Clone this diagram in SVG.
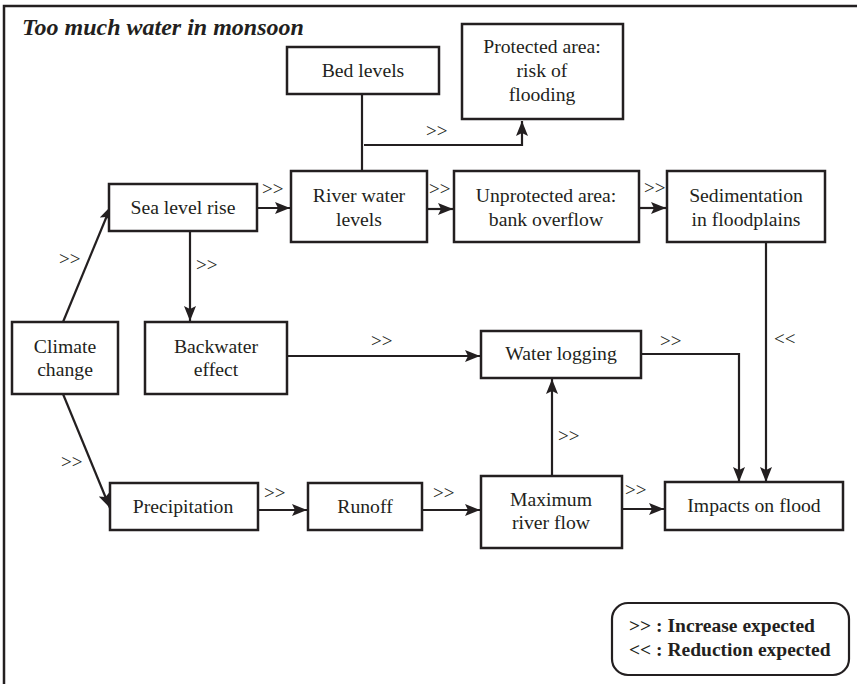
<svg xmlns="http://www.w3.org/2000/svg" width="857" height="684" viewBox="0 0 857 684">
  <style>
    .box { fill: #fff; stroke: #231f20; stroke-width: 2.5; }
    .t { font-family: "Liberation Serif", "Times New Roman", serif; font-size: 19.7px; fill: #231f20; text-anchor: middle; }
    .lbl { font-family: "Liberation Serif", "Times New Roman", serif; font-size: 19px; fill: #231f20; }
    .c { fill: none; stroke: #231f20; stroke-width: 2.2; }
    .legend { font-family: "Liberation Serif", "Times New Roman", serif; font-size: 19.5px; font-weight: bold; fill: #231f20; }
    .title { font-family: "Liberation Serif", "Times New Roman", serif; font-size: 24px; font-weight: bold; font-style: italic; fill: #231f20; }
  </style>
  <defs>
    <marker id="arr" markerUnits="userSpaceOnUse" markerWidth="16" markerHeight="12" refX="15" refY="6" orient="auto">
      <path d="M0,0 L15,6 L0,12 L3,6 z" fill="#231f20"/>
    </marker>
  </defs>

  <rect width="857" height="684" fill="#fff"/>
  <!-- outer frame: top and left edges only -->
  <path d="M4,684 L4,6 L857,6" fill="none" stroke="#231f20" stroke-width="2.5"/>
  <text class="title" x="22" y="35">Too much water in monsoon</text>

  <g id="connectors">
    <!-- bed levels down to river water levels, with branch to protected area -->
    <path class="c" d="M362,94 L362,172"/>
    <path class="c" d="M364,145 L522,145 L522,121" marker-end="url(#arr)"/>
    <!-- upper row -->
    <path class="c" d="M257,208 L290,208" marker-end="url(#arr)"/>
    <path class="c" d="M427,209 L453,209" marker-end="url(#arr)"/>
    <path class="c" d="M639,208 L666,208" marker-end="url(#arr)"/>
    <!-- climate change branches -->
    <path class="c" d="M63,322 L111,206" marker-end="url(#arr)"/>
    <path class="c" d="M63,394 L110,508" marker-end="url(#arr)"/>
    <!-- sea level rise down to backwater effect -->
    <path class="c" d="M190,231 L190,321" marker-end="url(#arr)"/>
    <!-- backwater effect to water logging -->
    <path class="c" d="M287,356 L480,356" marker-end="url(#arr)"/>
    <!-- water logging to impacts on flood -->
    <path class="c" d="M641,354 L739,354 L739,482" marker-end="url(#arr)"/>
    <!-- sedimentation to impacts on flood -->
    <path class="c" d="M766,242 L766,482" marker-end="url(#arr)"/>
    <!-- maximum river flow up to water logging -->
    <path class="c" d="M552,476 L552,379" marker-end="url(#arr)"/>
    <!-- lower row -->
    <path class="c" d="M258,510 L307,510" marker-end="url(#arr)"/>
    <path class="c" d="M422,510 L480,510" marker-end="url(#arr)"/>
    <path class="c" d="M622,509 L664,509" marker-end="url(#arr)"/>

    <!-- connector labels -->
    <text class="lbl" x="426" y="137">&gt;&gt;</text>
    <text class="lbl" x="262" y="195">&gt;&gt;</text>
    <text class="lbl" x="429" y="195">&gt;&gt;</text>
    <text class="lbl" x="644" y="194">&gt;&gt;</text>
    <text class="lbl" x="59" y="265">&gt;&gt;</text>
    <text class="lbl" x="196" y="271">&gt;&gt;</text>
    <text class="lbl" x="371" y="347">&gt;&gt;</text>
    <text class="lbl" x="660" y="347">&gt;&gt;</text>
    <text class="lbl" x="774" y="345">&lt;&lt;</text>
    <text class="lbl" x="558" y="442">&gt;&gt;</text>
    <text class="lbl" x="61" y="468">&gt;&gt;</text>
    <text class="lbl" x="264" y="499">&gt;&gt;</text>
    <text class="lbl" x="433" y="499">&gt;&gt;</text>
    <text class="lbl" x="625" y="496">&gt;&gt;</text>
  </g>

  <g id="bed-levels">
    <rect class="box" x="287" y="47" width="152" height="47"/>
    <text class="t" x="363" y="77">Bed levels</text>
  </g>
  <g id="protected-area">
    <rect class="box" x="462" y="24" width="161" height="95"/>
    <text class="t" x="542" y="53">Protected area:</text>
    <text class="t" x="542" y="77">risk of</text>
    <text class="t" x="542" y="101">flooding</text>
  </g>
  <g id="sea-level-rise">
    <rect class="box" x="109" y="184" width="148" height="47"/>
    <text class="t" x="183" y="214">Sea level rise</text>
  </g>
  <g id="river-water-levels">
    <rect class="box" x="291" y="171" width="136" height="71"/>
    <text class="t" x="359" y="202">River water</text>
    <text class="t" x="359" y="226">levels</text>
  </g>
  <g id="unprotected-area">
    <rect class="box" x="454" y="171" width="185" height="71"/>
    <text class="t" x="546" y="202">Unprotected area:</text>
    <text class="t" x="546" y="226">bank overflow</text>
  </g>
  <g id="sedimentation">
    <rect class="box" x="667" y="171" width="158" height="71"/>
    <text class="t" x="746" y="202">Sedimentation</text>
    <text class="t" x="746" y="226">in floodplains</text>
  </g>
  <g id="climate-change">
    <rect class="box" x="12" y="322" width="106" height="72"/>
    <text class="t" x="65" y="353">Climate</text>
    <text class="t" x="65" y="376">change</text>
  </g>
  <g id="backwater-effect">
    <rect class="box" x="145" y="322" width="142" height="72"/>
    <text class="t" x="216" y="353">Backwater</text>
    <text class="t" x="216" y="376">effect</text>
  </g>
  <g id="water-logging">
    <rect class="box" x="481" y="331" width="160" height="47"/>
    <text class="t" x="561" y="360">Water logging</text>
  </g>
  <g id="precipitation">
    <rect class="box" x="110" y="483" width="148" height="47"/>
    <text class="t" x="183" y="513">Precipitation</text>
  </g>
  <g id="runoff">
    <rect class="box" x="308" y="483" width="114" height="47"/>
    <text class="t" x="365" y="513">Runoff</text>
  </g>
  <g id="maximum-river-flow">
    <rect class="box" x="481" y="476" width="141" height="72"/>
    <text class="t" x="551" y="506">Maximum</text>
    <text class="t" x="551" y="529">river flow</text>
  </g>
  <g id="impacts-on-flood">
    <rect class="box" x="665" y="482" width="178" height="48"/>
    <text class="t" x="754" y="512">Impacts on flood</text>
  </g>

  <g id="legend">
    <rect x="612" y="603" width="237" height="72" rx="16" ry="16" fill="#fff" stroke="#231f20" stroke-width="2.2"/>
    <text class="legend" x="629" y="632">&gt;&gt; : Increase expected</text>
    <text class="legend" x="629" y="656">&lt;&lt; : Reduction expected</text>
  </g>
</svg>
